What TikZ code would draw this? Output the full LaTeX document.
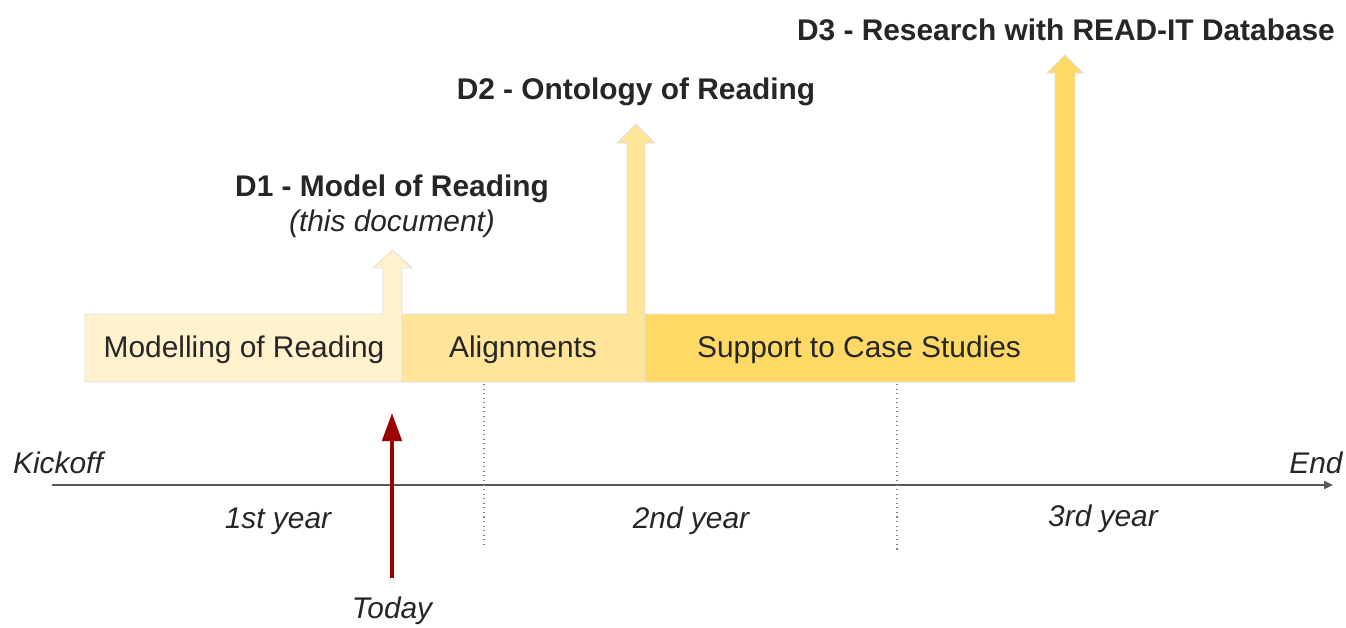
\documentclass[tikz,border=0pt]{standalone}
\usepackage{fontspec}
\setmainfont{Liberation Sans}
\usetikzlibrary{arrows.meta}
\definecolor{yellowA}{HTML}{FFF2CC}
\definecolor{yellowB}{HTML}{FFE599}
\definecolor{yellowC}{HTML}{FFD966}
\definecolor{todayred}{HTML}{990000}
\definecolor{axisgray}{HTML}{595959}
\tikzset{
  phase/.style={draw=black!12, line width=0.5pt},
  lbl/.style={font=\fontsize{17}{20}\selectfont, text=black!85, inner sep=0pt},
  deliv/.style={lbl, font=\fontsize{17}{20}\selectfont\bfseries},
  when/.style={lbl, font=\fontsize{17}{20}\selectfont\itshape},
  yearsep/.style={draw=black!50, dotted, line width=0.6pt},
  >/.tip={Triangle[length=5pt,width=4.5pt]}
}

\begin{document}
\begin{tikzpicture}[x=0.02cm, y=-0.02cm]
\useasboundingbox (0,0) rectangle (1346,627);
% phases, each with its deliverable arrow
\path[phase, fill=yellowA] (85,314) -- (383,314) -- (383,268) -- (373,268) -- (392.5,250)
  -- (412,268) -- (402,268) -- (402,382) -- (85,382) -- cycle;
\path[phase, fill=yellowB] (402,314) -- (627,314) -- (627,143) -- (617,143) -- (636,124)
  -- (655,143) -- (645,143) -- (645,382) -- (402,382) -- cycle;
\path[phase, fill=yellowC] (645,314) -- (1055,314) -- (1055,73) -- (1047,73) -- (1065,55)
  -- (1083,73) -- (1075,73) -- (1075,382) -- (645,382) -- cycle;

\node[lbl] (modelling) at (244,350) {Modelling of Reading};
\node[lbl] (alignments) at (523,350) {Alignments};
\node[lbl] (support) at (859,350) {Support to Case Studies};

\node[deliv] (D1) at (392,189) {D1 - Model of Reading};
\node[when] (D1-note) at (392,224) {(this document)};
\node[deliv] (D2) at (636,92) {D2 - Ontology of Reading};
\node[deliv] (D3) at (1066,30) {D3 - Research with READ-IT Database};

% timeline
\coordinate (start) at (52,485);
\coordinate (finish) at (1333,485);
\draw[axisgray, line width=1pt, ->] (start) -- (finish);
\node[when] (kickoff) at (58,463) {Kickoff};
\node[when] (end) at (1316,463) {End};

\draw[yearsep] (484,384) -- (484,548);
\draw[yearsep] (897,384) -- (897,553);
\node[when] (year1) at (278,521) {1st year};
\node[when] (year2) at (691,521) {2nd year};
\node[when] (year3) at (1103,519) {3rd year};

\node[when] (today) at (392,611) {Today};
\coordinate (now) at (392,413);
\draw[todayred, line width=2.2pt, -{Triangle[length=16pt,width=11pt]}, shorten <=0.38cm] (today.north) -- (now);
\end{tikzpicture}
\end{document}
